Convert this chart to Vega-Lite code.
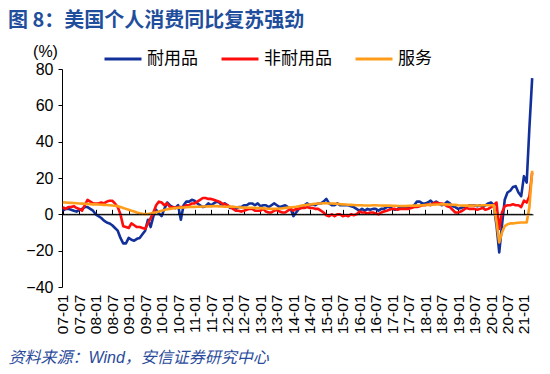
{
"$schema": "https://vega.github.io/schema/vega-lite/v6.json",
"width": 471, "height": 218,
"autosize": {"type": "none"},
"padding": {"left": 62, "top": 69, "right": 17, "bottom": 87},
"background": "white",
"config": {
  "view": {"stroke": null},
  "font": "Liberation Sans, Noto Sans CJK SC",
  "axisY": {"grid": false, "values": [-40,-20,0,20,40,60,80], "domainColor": "#000", "tickColor": "#000", "tickSize": 4, "labelFontSize": 16, "labelColor": "#000", "labelPadding": 5, "titleAngle": 0, "titleFontSize": 16, "titleFontWeight": "normal", "titleColor": "#000", "titleX": -17, "titleY": -13, "titleAlign": "center", "titleBaseline": "alphabetic"}
},
"title": {"text": "图 8：美国个人消费同比复苏强劲", "anchor": "start", "frame": "group", "font": "Noto Sans CJK SC", "fontSize": 20, "fontWeight": "bold", "color": "#1f4e9c", "dx": -54, "offset": 8},
"data": {"values": [
{"d":"07-01","dur":2,"nd":4,"sv":6.6},{"d":"07-02","dur":3,"nd":3,"sv":6.5},{"d":"07-03","dur":3,"nd":4,"sv":6.4},{"d":"07-04","dur":2.5,"nd":4,"sv":6.3},{"d":"07-05","dur":2,"nd":4.5,"sv":6.2},{"d":"07-06","dur":1.5,"nd":3.5,"sv":6.1},{"d":"07-07","dur":2.5,"nd":3,"sv":6.0},{"d":"07-08","dur":3,"nd":2,"sv":5.9},{"d":"07-09","dur":4,"nd":5,"sv":5.8},{"d":"07-10","dur":4,"nd":8,"sv":5.7},{"d":"07-11","dur":3,"nd":7,"sv":5.6},{"d":"07-12","dur":2,"nd":6,"sv":5.5},
{"d":"08-01","dur":0,"nd":6,"sv":5.5},{"d":"08-02","dur":-1,"nd":6,"sv":5.4},{"d":"08-03","dur":-2,"nd":6.5,"sv":5.3},{"d":"08-04","dur":-3.5,"nd":6,"sv":5.2},{"d":"08-05","dur":-4.5,"nd":7,"sv":5.1},{"d":"08-06","dur":-5,"nd":7.5,"sv":5.0},{"d":"08-07","dur":-6,"nd":7.5,"sv":4.9},{"d":"08-08","dur":-7.5,"nd":6,"sv":4.7},{"d":"08-09","dur":-9,"nd":4,"sv":4.5},{"d":"08-10","dur":-13,"nd":0,"sv":4.0},{"d":"08-11","dur":-16,"nd":-6.5,"sv":3.5},{"d":"08-12","dur":-16,"nd":-7,"sv":3.0},
{"d":"09-01","dur":-13,"nd":-7.5,"sv":2.5},{"d":"09-02","dur":-14,"nd":-5,"sv":2.0},{"d":"09-03","dur":-14.5,"nd":-6,"sv":1.5},{"d":"09-04","dur":-13.5,"nd":-7,"sv":1.0},{"d":"09-05","dur":-13,"nd":-7,"sv":0.6},{"d":"09-06","dur":-11,"nd":-7.5,"sv":0.3},{"d":"09-07","dur":-9,"nd":-8,"sv":0.1},{"d":"09-08","dur":-3,"nd":-5,"sv":0.2},{"d":"09-09","dur":-7,"nd":-2,"sv":0.5},{"d":"09-10","dur":-1,"nd":1,"sv":0.8},{"d":"09-11","dur":2.5,"nd":5,"sv":1.1},{"d":"09-12","dur":0.5,"nd":7,"sv":1.5},
{"d":"10-01","dur":-1,"nd":6.5,"sv":2.0},{"d":"10-02","dur":3,"nd":5,"sv":2.4},{"d":"10-03","dur":6.5,"nd":6,"sv":2.8},{"d":"10-04","dur":5,"nd":4,"sv":3.0},{"d":"10-05","dur":4,"nd":4,"sv":3.2},{"d":"10-06","dur":3.5,"nd":3.5,"sv":3.4},{"d":"10-07","dur":5,"nd":4,"sv":3.6},{"d":"10-08","dur":-3,"nd":4,"sv":3.7},{"d":"10-09","dur":5,"nd":4,"sv":3.8},{"d":"10-10","dur":7,"nd":5,"sv":3.9},{"d":"10-11","dur":7,"nd":5,"sv":4.0},{"d":"10-12","dur":8,"nd":6,"sv":4.1},
{"d":"11-01","dur":7.5,"nd":6,"sv":4.1},{"d":"11-02","dur":6,"nd":7,"sv":4.2},{"d":"11-03","dur":5,"nd":8,"sv":4.2},{"d":"11-04","dur":4,"nd":9,"sv":4.3},{"d":"11-05","dur":4.5,"nd":9,"sv":4.3},{"d":"11-06","dur":6,"nd":8.5,"sv":4.4},{"d":"11-07","dur":5,"nd":8.5,"sv":4.4},{"d":"11-08","dur":6,"nd":8,"sv":4.5},{"d":"11-09","dur":7,"nd":7.5,"sv":4.5},{"d":"11-10","dur":6.5,"nd":7,"sv":4.4},{"d":"11-11","dur":5,"nd":6,"sv":4.3},{"d":"11-12","dur":6,"nd":5.5,"sv":4.2},
{"d":"12-01","dur":5,"nd":5,"sv":4.2},{"d":"12-02","dur":3.5,"nd":4,"sv":4.3},{"d":"12-03","dur":4,"nd":3,"sv":4.2},{"d":"12-04","dur":3,"nd":2,"sv":4.0},{"d":"12-05","dur":4,"nd":2,"sv":3.9},{"d":"12-06","dur":4,"nd":1.5,"sv":3.8},{"d":"12-07","dur":5,"nd":2,"sv":3.7},{"d":"12-08","dur":5,"nd":2.5,"sv":3.6},{"d":"12-09","dur":6,"nd":3,"sv":3.6},{"d":"12-10","dur":6,"nd":3,"sv":3.6},{"d":"12-11","dur":5,"nd":2,"sv":3.5},{"d":"12-12","dur":6,"nd":2,"sv":3.5},
{"d":"13-01","dur":4.5,"nd":2,"sv":3.4},{"d":"13-02","dur":5,"nd":3,"sv":3.3},{"d":"13-03","dur":5,"nd":1.5,"sv":3.2},{"d":"13-04","dur":4,"nd":1,"sv":3.1},{"d":"13-05","dur":5,"nd":1,"sv":3.0},{"d":"13-06","dur":6,"nd":2,"sv":3.0},{"d":"13-07","dur":5,"nd":2.5,"sv":3.1},{"d":"13-08","dur":4,"nd":1.5,"sv":3.2},{"d":"13-09","dur":4.5,"nd":1,"sv":3.3},{"d":"13-10","dur":5,"nd":1,"sv":3.5},{"d":"13-11","dur":4,"nd":2,"sv":3.7},{"d":"13-12","dur":3,"nd":3,"sv":3.9},
{"d":"14-01","dur":-1,"nd":2,"sv":4.0},{"d":"14-02","dur":1,"nd":3,"sv":4.2},{"d":"14-03","dur":3,"nd":3,"sv":4.5},{"d":"14-04","dur":4,"nd":3.5,"sv":4.8},{"d":"14-05","dur":5,"nd":3.5,"sv":5.0},{"d":"14-06","dur":6,"nd":4,"sv":5.2},{"d":"14-07","dur":5,"nd":3.5,"sv":5.4},{"d":"14-08","dur":5.5,"nd":3.5,"sv":5.6},{"d":"14-09","dur":5,"nd":3,"sv":5.8},{"d":"14-10","dur":6,"nd":3,"sv":6.0},{"d":"14-11","dur":6,"nd":2,"sv":6.0},{"d":"14-12","dur":7,"nd":1,"sv":6.1},
{"d":"15-01","dur":8.5,"nd":-0.5,"sv":6.1},{"d":"15-02","dur":6,"nd":-1,"sv":6.0},{"d":"15-03","dur":5,"nd":0,"sv":6.0},{"d":"15-04","dur":5,"nd":-1,"sv":5.9},{"d":"15-05","dur":6,"nd":0,"sv":5.8},{"d":"15-06","dur":5,"nd":0,"sv":5.6},{"d":"15-07","dur":5,"nd":-1,"sv":5.5},{"d":"15-08","dur":5,"nd":-0.5,"sv":5.4},{"d":"15-09","dur":5,"nd":-1,"sv":5.3},{"d":"15-10","dur":4.5,"nd":0,"sv":5.2},{"d":"15-11","dur":4,"nd":-0.5,"sv":5.1},{"d":"15-12","dur":3,"nd":0,"sv":5.0},
{"d":"16-01","dur":2,"nd":1.5,"sv":5.0},{"d":"16-02","dur":3,"nd":1,"sv":5.0},{"d":"16-03","dur":2,"nd":1,"sv":4.9},{"d":"16-04","dur":3,"nd":0.5,"sv":4.9},{"d":"16-05","dur":2.5,"nd":1,"sv":4.9},{"d":"16-06","dur":3,"nd":1,"sv":5.0},{"d":"16-07","dur":3,"nd":0.5,"sv":5.0},{"d":"16-08","dur":2,"nd":0,"sv":4.9},{"d":"16-09","dur":3,"nd":1,"sv":4.9},{"d":"16-10","dur":3,"nd":1.5,"sv":4.8},{"d":"16-11","dur":4,"nd":2,"sv":4.8},{"d":"16-12","dur":4,"nd":2.5,"sv":4.8},
{"d":"17-01","dur":3,"nd":3,"sv":4.7},{"d":"17-02","dur":2.5,"nd":3,"sv":4.7},{"d":"17-03","dur":3,"nd":2.5,"sv":4.6},{"d":"17-04","dur":4,"nd":3,"sv":4.6},{"d":"17-05","dur":4,"nd":3,"sv":4.6},{"d":"17-06","dur":4,"nd":3,"sv":4.6},{"d":"17-07","dur":4,"nd":3,"sv":4.7},{"d":"17-08","dur":4,"nd":3.5,"sv":4.7},{"d":"17-09","dur":5,"nd":4,"sv":4.8},{"d":"17-10","dur":7,"nd":4,"sv":4.8},{"d":"17-11","dur":7,"nd":4.5,"sv":4.9},{"d":"17-12","dur":6,"nd":5,"sv":5.0},
{"d":"18-01","dur":6,"nd":5,"sv":5.1},{"d":"18-02","dur":6.5,"nd":5.5,"sv":5.2},{"d":"18-03","dur":7.5,"nd":5,"sv":5.3},{"d":"18-04","dur":6,"nd":6,"sv":5.3},{"d":"18-05","dur":7,"nd":6.5,"sv":5.4},{"d":"18-06","dur":6,"nd":6,"sv":5.4},{"d":"18-07","dur":5,"nd":6,"sv":5.5},{"d":"18-08","dur":5.5,"nd":5.5,"sv":5.5},{"d":"18-09","dur":7,"nd":4.5,"sv":5.4},{"d":"18-10","dur":6,"nd":4,"sv":5.4},{"d":"18-11","dur":4.5,"nd":2.5,"sv":5.3},{"d":"18-12","dur":4,"nd":1,"sv":5.2},
{"d":"19-01","dur":3,"nd":1,"sv":5.0},{"d":"19-02","dur":3.5,"nd":1.5,"sv":4.9},{"d":"19-03","dur":4,"nd":2.5,"sv":4.8},{"d":"19-04","dur":4,"nd":3.5,"sv":4.8},{"d":"19-05","dur":5,"nd":3,"sv":4.8},{"d":"19-06","dur":5,"nd":3,"sv":4.8},{"d":"19-07","dur":5,"nd":3,"sv":4.9},{"d":"19-08","dur":4.5,"nd":2.5,"sv":4.9},{"d":"19-09","dur":5,"nd":3,"sv":4.9},{"d":"19-10","dur":4,"nd":3.5,"sv":5.0},{"d":"19-11","dur":5,"nd":2.5,"sv":5.0},{"d":"19-12","dur":6,"nd":3,"sv":5.0},
{"d":"20-01","dur":6.5,"nd":4,"sv":5.0},{"d":"20-02","dur":5,"nd":5,"sv":5.0},{"d":"20-03","dur":-6,"nd":6.5,"sv":-4.0},{"d":"20-04","dur":-21,"nd":-8,"sv":-15.5},{"d":"20-05","dur":-6,"nd":1,"sv":-10},{"d":"20-06","dur":8,"nd":4.5,"sv":-6.5},{"d":"20-07","dur":12,"nd":5,"sv":-5.5},{"d":"20-08","dur":13,"nd":5,"sv":-5},{"d":"20-09","dur":15,"nd":5.5,"sv":-5},{"d":"20-10","dur":15.5,"nd":5,"sv":-4.8},{"d":"20-11","dur":12,"nd":5,"sv":-4.6},{"d":"20-12","dur":10,"nd":4,"sv":-4.5},
{"d":"21-01","dur":21,"nd":7.5,"sv":-4.5},{"d":"21-02","dur":17.5,"nd":6.5,"sv":-4.5},{"d":"21-03","dur":48,"nd":10,"sv":4},{"d":"21-04","dur":75,"nd":23,"sv":24}
]},
"layer": [
  {"mark": {"type": "line", "strokeWidth": 2.6, "strokeJoin": "round"},
   "encoding": {
     "x": {"field": "d", "type": "ordinal", "sort": null, "scale": {"type": "point", "padding": 0.3},
       "axis": {"orient": "bottom", "values": ["07-01","07-07","08-01","08-07","09-01","09-07","10-01","10-07","11-01","11-07","12-01","12-07","13-01","13-07","14-01","14-07","15-01","15-07","16-01","16-07","17-01","17-07","18-01","18-07","19-01","19-07","20-01","20-07","21-01"], "labelAngle": 270, "labelFontSize": 15.5, "labelColor": "#000", "labelPadding": 7, "domain": false, "ticks": false, "grid": false,
         "title": "资料来源：Wind，安信证券研究中心", "titleFontStyle": "italic", "titleFontWeight": "normal", "titleFontSize": 16, "titleColor": "#2a4b9b", "titleAnchor": "start", "titleAlign": "left", "titleBaseline": "alphabetic", "titleX": -54, "titleY": 75}},
     "y": {"field": "dur", "type": "quantitative", "title": "(%)", "scale": {"domain": [-40, 80], "nice": false, "zero": false}},
     "color": {"datum": "耐用品", "type": "nominal",
       "scale": {"domain": ["耐用品", "非耐用品", "服务"], "range": ["#12309a", "#ff0d0d", "#ff9d1a"]},
       "legend": {"orient": "none", "legendX": 41, "legendY": -30, "direction": "horizontal", "title": null, "symbolType": "stroke", "symbolStrokeWidth": 3, "symbolSize": 1369, "labelFontSize": 17, "labelColor": "#000", "labelFont": "Noto Sans CJK SC", "labelOffset": 4, "columnPadding": 17}}
   }},
  {"mark": {"type": "line", "strokeWidth": 2.6, "strokeJoin": "round"},
   "encoding": {
     "x": {"field": "d", "type": "ordinal", "sort": null, "axis": null},
     "y": {"field": "nd", "type": "quantitative", "title": "(%)"},
     "color": {"datum": "非耐用品", "type": "nominal"}
   }},
  {"mark": {"type": "line", "strokeWidth": 2.6, "strokeJoin": "round"},
   "encoding": {
     "x": {"field": "d", "type": "ordinal", "sort": null, "axis": null},
     "y": {"field": "sv", "type": "quantitative", "title": "(%)"},
     "color": {"datum": "服务", "type": "nominal"}
   }},
  {"mark": {"type": "line", "strokeWidth": 1, "color": "#000"},
   "encoding": {
     "x": {"field": "d", "type": "ordinal", "sort": null,
       "axis": {"orient": "top", "offset": -145.33, "values": ["07-01","07-07","08-01","08-07","09-01","09-07","10-01","10-07","11-01","11-07","12-01","12-07","13-01","13-07","14-01","14-07","15-01","15-07","16-01","16-07","17-01","17-07","18-01","18-07","19-01","19-07","20-01","20-07","21-01"], "labels": false, "domain": true, "domainColor": "#000", "ticks": true, "tickColor": "#000", "tickSize": 5, "grid": false, "title": null}},
     "y": {"datum": 0, "type": "quantitative"}
   }}
],
"resolve": {"axis": {"x": "independent"}}
}
